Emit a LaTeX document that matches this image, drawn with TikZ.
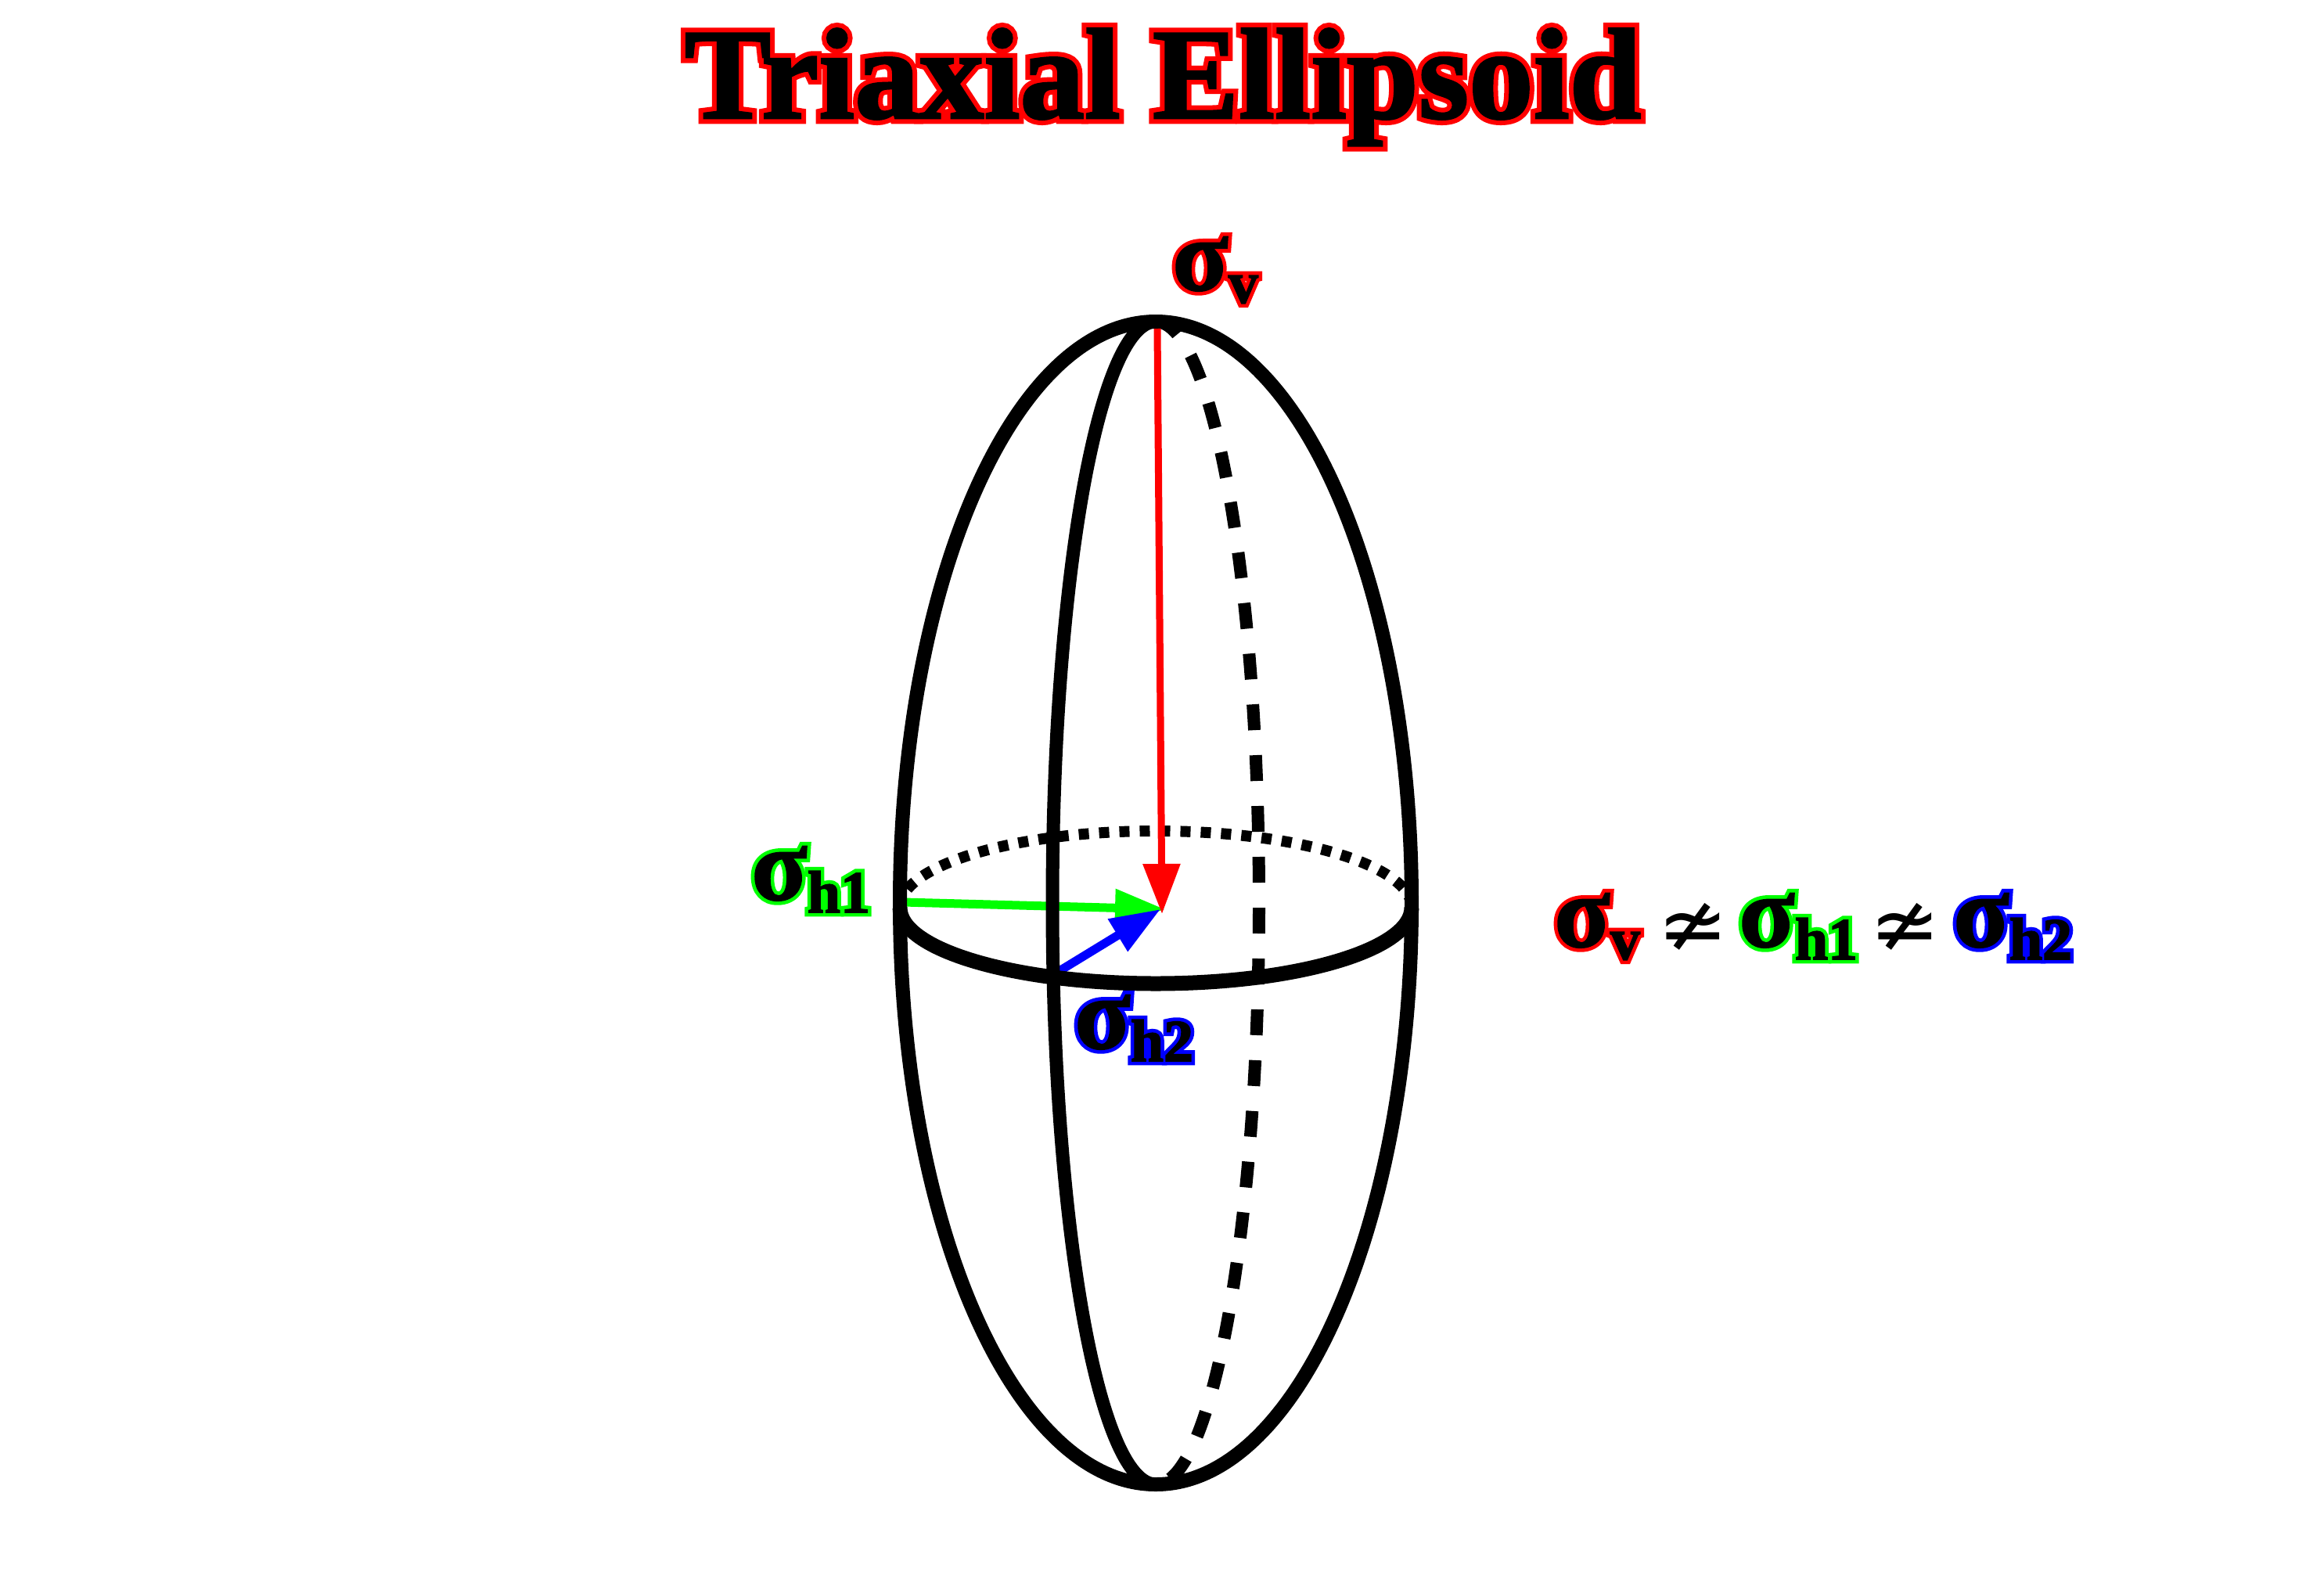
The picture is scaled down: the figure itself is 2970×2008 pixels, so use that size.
\documentclass[tikz,border=0pt]{standalone}
\usepackage{fontspec}
\usetikzlibrary{arrows.meta}
\setmainfont{Liberation Serif}
\newfontfamily\symfont{DejaVu Sans}
\newcommand\outl[2]{\special{pdf:code #1 RG #2 w 2 Tr 0 g}}
\newcommand\outloff{\special{pdf:code 0 Tr}}
\newcommand\layered[4]{\rlap{\outl{#1}{#2}#4\outloff}\outl{0 0 0}{#3}#4\outloff}
\newcommand\siglab[2]{\fontsize{66pt}{70pt}\bfseries\layered{#1}{5.4}{0.8}{σ\raisebox{-8pt}{\fontsize{38pt}{44pt}\selectfont #2}}}
\definecolor{pred}{RGB}{255,0,0}
\definecolor{pgreen}{RGB}{0,255,0}
\definecolor{pblue}{RGB}{0,0,255}
\tikzset{
  lab/.style={anchor=base west,inner sep=0pt,outer sep=0pt},
  shell/.style={line width=9pt,black},
  backdash/.style={line width=8pt,black,dash pattern=on 16.5pt off 16pt},
  backdot/.style={line width=7pt,black,dash pattern=on 6.5pt off 6.5pt},
  vec/.style={-{Triangle[length=32pt,width=23pt]}}
}
\begin{document}
\begin{tikzpicture}[x=0.5pt,y=-0.5pt]
\useasboundingbox (0,0) rectangle (2970,2008);
\coordinate (c) at (1477,1154);
\coordinate (top) at (1477,411);
\coordinate (ringL) at (1150,1160);
\coordinate (ringR) at (1804,1160);
\coordinate (vtop) at (1479,420);
\coordinate (vtip) at (1485,1168);
\coordinate (gs) at (1155,1153);
\coordinate (gtip) at (1489,1162);
\coordinate (bs) at (1352,1242);
\coordinate (btip) at (1483,1162);
% green and blue vectors sit under the shell
\draw[vec,line width=5.5pt,pgreen] (gs) -- (gtip);
\draw[vec,line width=5.5pt,pblue] (bs) -- (btip);
% outer ellipse
\draw[shell] (c) ellipse [x radius=327,y radius=743];
% inner meridian
\draw[shell,line width=8.5pt] (top) arc[start angle=270,end angle=90,x radius=132,y radius=743];
\draw[backdash] (top) arc[start angle=-90,end angle=90,x radius=132,y radius=743];
% ring
\draw[shell,line width=9.5pt] (ringL) arc[start angle=180,end angle=0,x radius=327,y radius=97];
\draw[backdot] (ringL) arc[start angle=180,end angle=360,x radius=327,y radius=98];
\draw[vec,line width=4.5pt,pred] (vtop) -- (vtip);
% title
\node[lab] (title) at (875,151) {\fontsize{82.6pt}{90pt}\bfseries\layered{1 0 0}{7.4}{1.4}{Triaxial Ellipsoid}};
% labels
\node[lab] (sv) at (1498,371) {\siglab{1 0 0}{v}};
\node[lab] (sh1) at (960,1150) {\siglab{0 1 0}{h1}};
\node[lab] (sh2) at (1373,1340) {\siglab{0 0 1}{h2}};
\node[lab] (eqa) at (1986,1210) {\siglab{1 0 0}{v}};
\node[lab] (ne1) at (2118,1219) {\fontsize{54pt}{54pt}\symfont ≄};
\node[lab] (eqb) at (2222,1210) {\siglab{0 1 0}{h1}};
\node[lab] (ne2) at (2389,1219) {\fontsize{54pt}{54pt}\symfont ≄};
\node[lab] (eqc) at (2496,1210) {\siglab{0 0 1}{h2}};
\end{tikzpicture}
\end{document}
